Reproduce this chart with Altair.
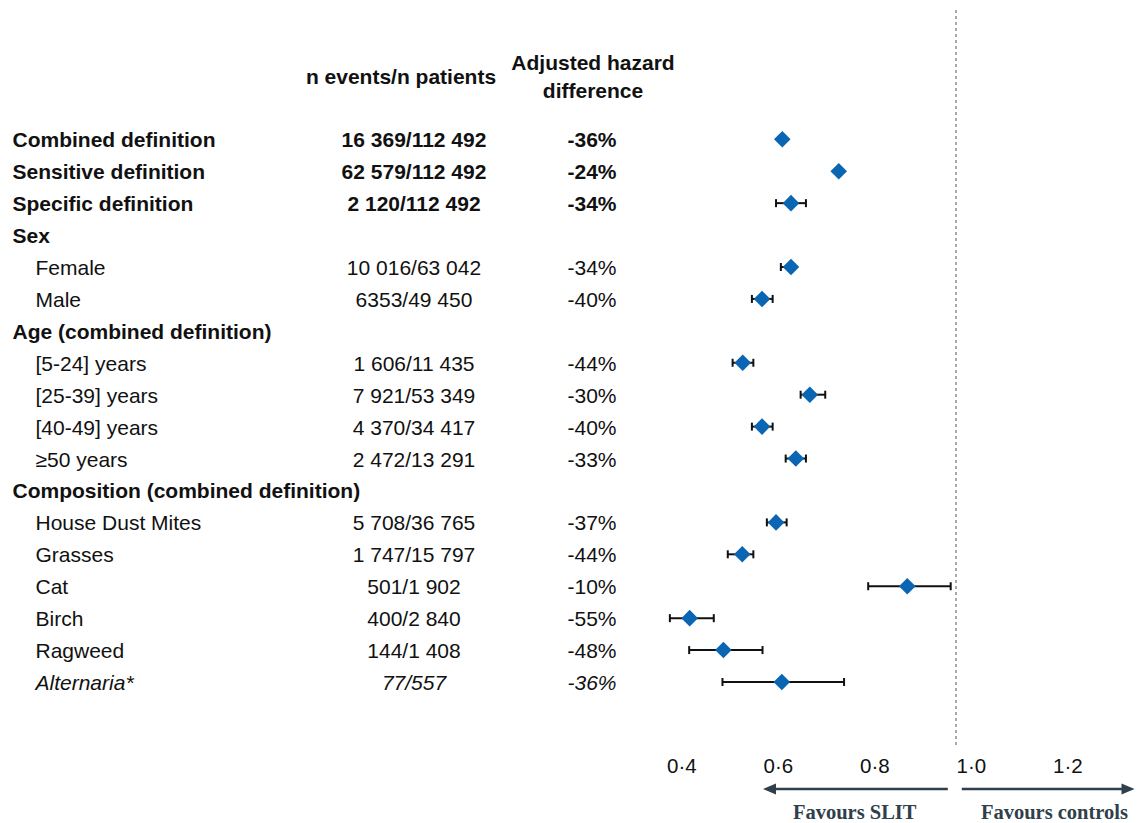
import altair as alt
import pandas as pd

# ---------------- data ----------------
labels = [
    "Combined definition", "Sensitive definition", "Specific definition",
    "Sex", "Female", "Male",
    "Age (combined definition)", "[5-24] years", "[25-39] years", "[40-49] years", "≥50 years",
    "Composition (combined definition)", "House Dust Mites", "Grasses", "Cat", "Birch",
    "Ragweed", "Alternaria*",
]
n_text = [
    "16 369/112 492", "62 579/112 492", "2 120/112 492",
    "", "10 016/63 042", "6353/49 450",
    "", "1 606/11 435", "7 921/53 349", "4 370/34 417", "2 472/13 291",
    "", "5 708/36 765", "1 747/15 797", "501/1 902", "400/2 840", "144/1 408", "77/557",
]
hazard_text = [
    "-36%", "-24%", "-34%",
    "", "-34%", "-40%",
    "", "-44%", "-30%", "-40%", "-33%",
    "", "-37%", "-44%", "-10%", "-55%", "-48%", "-36%",
]
hr = [0.64, 0.757, 0.658, None, 0.658, 0.598, None, 0.558, 0.697, 0.598, 0.668,
      None, 0.627, 0.557, 0.899, 0.448, 0.518, 0.639]
ci_low = [None, None, 0.627, None, 0.637, 0.577, None, 0.537, 0.678, 0.577, 0.647,
          None, 0.608, 0.527, 0.818, 0.407, 0.447, 0.516]
ci_high = [None, None, 0.689, None, 0.665, 0.620, None, 0.580, 0.729, 0.620, 0.689,
           None, 0.649, 0.580, 0.989, 0.498, 0.599, 0.768]

x_ticks = [0.4, 0.6, 0.8, 1.0, 1.2]
reference_hr = [1.0]
favours_text = ["Favours SLIT", "Favours controls"]
favours_x = [0.79, 1.204]
arrow_start = [0.613, 1.012]
arrow_end = [0.983, 1.357]
arrow_tip = [0.6, 1.37]

header_rows = [0, 1, 2, 3, 6, 11]
bold_value_rows = [0, 1, 2]
italic_rows = [17]

# ---------------- build table ----------------
rows = list(range(len(labels)))
df = pd.DataFrame({
    "row": rows, "label": labels, "n": n_text, "hz": hazard_text,
    "hr": hr, "lo": ci_low, "hi": ci_high,
})
df["is_header"] = df["row"].isin(header_rows)
df["is_boldval"] = df["row"].isin(bold_value_rows)
df["is_italic"] = df["row"].isin(italic_rows)

FONT = "Liberation Sans"
FS = 21
TXT = "#111111"
BLUE = "#0a66b2"
ARROW = "#2f3f4b"
DY = 2

xscale = alt.Scale(domain=[0.4, 1.4], range=[658.5, 1141], nice=False, zero=False)
yscale = alt.Scale(domain=[0, 17], range=[131.3, 674], nice=False, zero=False)
xaxis = alt.Axis(
    values=x_ticks,
    labelExpr="replace(format(datum.value, '.1f'), '.', '·')",
    domain=False, ticks=False, tickSize=0, grid=False,
    labelAlign="left", labelBaseline="top", labelPadding=8,
    labelFontSize=20.5, labelFont=FONT, labelColor=TXT,
    labelFlush=False, labelOverlap=False, title=None,
)
Y = alt.Y("row:Q", scale=yscale, axis=None)

base = alt.Chart(df)


def text_layer(filt, field, x, align, weight="normal", style="normal"):
    return base.transform_filter(filt).mark_text(
        align=align, baseline="middle", font=FONT, fontSize=FS, color=TXT,
        fontWeight=weight, fontStyle=style, dy=DY,
    ).encode(x=alt.value(x), y=Y, text=f"{field}:N")


layers = []

# label column
layers.append(text_layer("datum.is_header", "label", 4.5, "left", weight="bold"))
layers.append(text_layer("!datum.is_header && !datum.is_italic", "label", 27.5, "left"))
layers.append(text_layer("datum.is_italic", "label", 27.5, "left", style="italic"))

# n events column
layers.append(text_layer("datum.is_boldval", "n", 406, "center", weight="bold"))
layers.append(text_layer("!datum.is_boldval && !datum.is_italic && datum.n != ''", "n", 406, "center"))
layers.append(text_layer("datum.is_italic", "n", 406, "center", style="italic"))

# hazard column
layers.append(text_layer("datum.is_boldval", "hz", 584, "center", weight="bold"))
layers.append(text_layer("!datum.is_boldval && !datum.is_italic && datum.hz != ''", "hz", 584, "center"))
layers.append(text_layer("datum.is_italic", "hz", 584, "center", style="italic"))

# column headers
hdr = pd.DataFrame({
    "text": ["n events/n patients", "Adjusted hazard", "difference"],
    "row": [-1.97, -2.42, -1.55],
    "col": ["n", "hz", "hz"],
})
for col, xpos in [("n", 393), ("hz", 585)]:
    layers.append(
        alt.Chart(hdr).transform_filter(f"datum.col == '{col}'").mark_text(
            align="center", baseline="middle", font=FONT, fontSize=FS,
            fontWeight="bold", color=TXT, dy=DY,
        ).encode(x=alt.value(xpos), y=Y, text="text:N")
    )

# reference line at HR = 1
layers.append(
    alt.Chart(pd.DataFrame({"ref": reference_hr})).mark_rule(
        strokeDash=[3, 3], color="#555555", strokeWidth=1
    ).encode(x=alt.X("ref:Q", scale=xscale, axis=xaxis), y=alt.value(2), y2=alt.value(740))
)

# confidence intervals
ci = base.transform_filter("isValid(datum.lo)")
layers.append(
    ci.mark_rule(color="#111111", strokeWidth=2).encode(
        x=alt.X("lo:Q", scale=xscale, axis=xaxis), x2="hi:Q", y=Y
    )
)
layers.append(
    ci.mark_tick(orient="vertical", size=8, thickness=2, color="#111111", opacity=1).encode(
        x=alt.X("lo:Q", scale=xscale, axis=xaxis), y=Y
    )
)
layers.append(
    ci.mark_tick(orient="vertical", size=8, thickness=2, color="#111111", opacity=1).encode(
        x=alt.X("hi:Q", scale=xscale, axis=xaxis), y=Y
    )
)

# point estimates
layers.append(
    base.transform_filter("isValid(datum.hr)").mark_point(
        shape="diamond", filled=True, size=275, color=BLUE, opacity=1
    ).encode(x=alt.X("hr:Q", scale=xscale, axis=xaxis), y=Y)
)

# favours arrows
arr = pd.DataFrame({"start": arrow_start, "end": arrow_end, "tip": arrow_tip,
                    "dir": ["left", "right"]})
layers.append(
    alt.Chart(arr).mark_rule(color=ARROW, strokeWidth=2.5).encode(
        x=alt.X("start:Q", scale=xscale, axis=xaxis), x2="end:Q", y=alt.value(781)
    )
)
layers.append(
    alt.Chart(arr).transform_filter("datum.dir == 'left'").mark_point(
        shape="M0,0L2,-0.85L2,0.85Z", filled=True, size=169, color=ARROW, opacity=1
    ).encode(x=alt.X("tip:Q", scale=xscale, axis=xaxis), y=alt.value(781))
)
layers.append(
    alt.Chart(arr).transform_filter("datum.dir == 'right'").mark_point(
        shape="M0,0L-2,-0.85L-2,0.85Z", filled=True, size=169, color=ARROW, opacity=1
    ).encode(x=alt.X("tip:Q", scale=xscale, axis=xaxis), y=alt.value(781))
)
fav = pd.DataFrame({"text": favours_text, "x": favours_x})
layers.append(
    alt.Chart(fav).mark_text(
        align="center", baseline="alphabetic", font="Liberation Serif", fontWeight="bold",
        fontSize=20.5, color=ARROW,
    ).encode(x=alt.X("x:Q", scale=xscale, axis=xaxis), y=alt.value(811), text="text:N")
)

chart = alt.layer(*layers).properties(
    width=1128, height=740,
    padding={"left": 0, "top": 0, "right": 0, "bottom": 75},
    autosize=alt.AutoSizeParams(type="none"),
    background="white",
).configure_view(stroke=None)

chart.save("out.html", embed_options={"renderer": "svg", "actions": False})
